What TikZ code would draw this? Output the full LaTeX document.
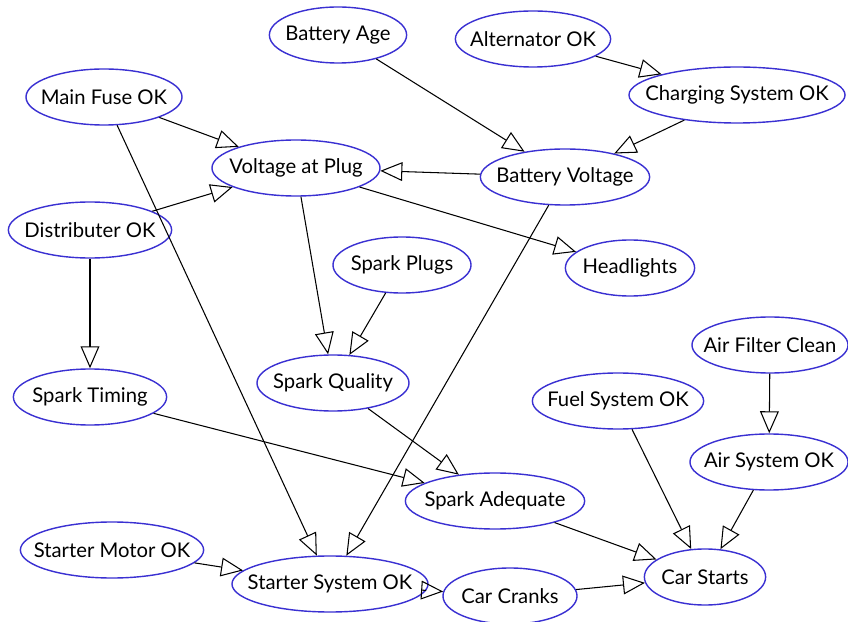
\documentclass[tikz,border=0pt]{standalone}
\usepackage{fontspec}
\setmainfont{Lato}
\usepackage{tikz}
\usetikzlibrary{arrows.meta,shapes.geometric}

\definecolor{varblue}{RGB}{58,48,210}

\begin{document}
\begin{tikzpicture}[x=0.025cm, y=0.025cm, font=\fontsize{14.4}{17}\selectfont]
\tikzstyle{var}=[ellipse, draw=varblue, line width=1pt, fill=white, minimum height=1.4cm, inner sep=0pt]
\tikzstyle{link}=[draw=black, line width=0.75pt, -{Triangle[open, length=0.55cm, width=0.47cm, line width=0.75pt]}]
\fill [white] (0,0) rectangle (848,-622);
\useasboundingbox (0,0) rectangle (848,-622);
% top row
\node [var, minimum width=3.43cm, label=center:Battery Age] (bage) at (338,-35) {};
\node [var, minimum width=3.88cm, label=center:Alternator OK] (alt) at (533,-39) {};
\node [var, minimum width=5.40cm, label=center:Charging System OK] (charge) at (737,-95) {};
\node [var, minimum width=3.90cm, label=center:Main Fuse OK] (fuse) at (104,-97) {};
\node [var, minimum width=4.20cm, label=center:Voltage at Plug] (vplug) at (296,-168) {};
\node [var, minimum width=4.23cm, label=center:Battery Voltage] (bvolt) at (565,-177) {};
\node [var, minimum width=4.08cm, label=center:Distributer OK] (distr) at (90,-230) {};
\node [var, minimum width=3.45cm, label=center:Spark Plugs] (plugs) at (402,-265) {};
\node [var, minimum width=3.23cm, label=center:Headlights] (lights) at (630,-268) {};
% middle
\node [var, minimum width=3.90cm, label=center:Air Filter Clean] (filter) at (770,-345) {};
\node [var, minimum width=3.80cm, label=center:Spark Quality] (squal) at (333,-383) {};
\node [var, minimum width=3.83cm, label=center:Spark Timing] (stime) at (90,-397) {};
\node [var, minimum width=4.28cm, label=center:Fuel System OK] (fuel) at (618,-401) {};
\node [var, minimum width=3.95cm, label=center:Air System OK] (air) at (769,-462) {};
\node [var, minimum width=4.48cm, label=center:Spark Adequate] (sadeq) at (495,-501) {};
% bottom row
\node [var, minimum width=4.58cm, label=center:Starter Motor OK] (motor) at (112,-550) {};
\node [var, minimum width=3.03cm, label=center:Car Starts] (starts) at (705,-577) {};
\node [var, minimum width=4.90cm, label=center:Starter System OK] (starter) at (330,-584) {};
\node [var, minimum width=3.35cm, label=center:Car Cranks] (cranks) at (510,-596) {};
% dependencies
\draw [link] (bage) -- (bvolt);
\draw [link] (alt) -- (charge);
\draw [link] (charge) -- (bvolt);
\draw [link] (bvolt) -- (vplug);
\draw [link] (fuse) -- (vplug);
\draw [link] (distr) -- (vplug);
\draw [link] (fuse) -- (starter);
\draw [link] (vplug) -- (lights);
\draw [link] (vplug) -- (squal);
\draw [link] (plugs) -- (squal);
\draw [link] (distr) -- (stime);
\draw [link] (bvolt) -- (starter);
\draw [link] (stime) -- (sadeq);
\draw [link] (squal) -- (sadeq);
\draw [link] (sadeq) -- (starts);
\draw [link] (fuel) -- (starts);
\draw [link] (filter) -- (air);
\draw [link] (air) -- (starts);
\draw [link] (motor) -- (starter);
\draw [link] (starter) -- (cranks);
\draw [link] (cranks) -- (starts);
\end{tikzpicture}
\end{document}
